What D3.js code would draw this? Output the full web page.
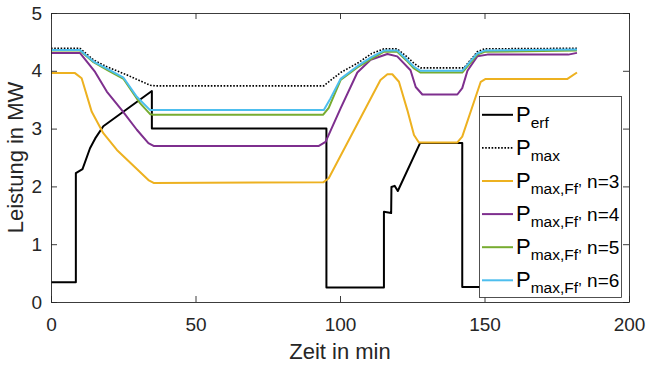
<!DOCTYPE html>
<html>
<head>
<meta charset="utf-8">
<script src="https://cdn.jsdelivr.net/npm/d3@7"></script>
<style>
  body { margin: 0; background: #fff; }
  svg { display: block; font-family: "Liberation Sans", Arial, sans-serif; }
</style>
</head>
<body>
<svg id="chart"></svg>
<script>
// [zeit in min, leistung in MW]
const pErf = [[0,0.34],[8.6,0.34],[8.6,2.23],[10.9,2.30],[13.5,2.66],[15.3,2.83],[18.1,3.04],[34.9,3.65],[34.9,3.0],
  [95.3,3.0],[95.3,0.25],[115.2,0.25],[115.2,1.56],[117.7,1.54],[117.8,1.99],[118.9,2.01],[120.0,1.92],
  [127.7,2.75],[142.3,2.75],[142.3,0.26],[182,0.26]]
const pMax = [[0,4.39],[10,4.39],[14.7,4.19],[19.3,4.07],[26.2,3.93],[34.3,3.75],[36,3.74],[94.4,3.74],[100.2,3.97],
  [106,4.13],[111,4.30],[115.2,4.38],[119.8,4.38],[123,4.25],[125.6,4.13],[127.9,4.05],[142.9,4.05],[147.5,4.33],
  [150,4.38],[182,4.39]]
const pFfN3 = [[0,3.96],[8.3,3.96],[10.6,3.87],[14.1,3.29],[18.1,2.92],[22.8,2.63],[33.7,2.11],[35.5,2.06],[94.2,2.07],
  [96.1,2.14],[114,3.84],[116.4,3.94],[118.1,3.94],[120.4,3.81],[123.3,3.32],[125.6,2.89],[127.3,2.76],[140.6,2.76],
  [142.3,2.86],[148.7,3.81],[150.4,3.86],[178.7,3.86],[182,3.97]]
const pFfN4 = [[0,4.31],[10,4.31],[15.25,3.98],[19.3,3.64],[24.5,3.32],[29.7,2.98],[33.7,2.75],[35.5,2.70],[92.7,2.70],
  [95,2.77],[100.2,3.35],[106,3.97],[110.6,4.19],[116.4,4.29],[119.8,4.25],[124.4,4.01],[126.2,3.72],[128.5,3.59],
  [140.6,3.59],[142.3,3.70],[144.1,4.00],[147.5,4.25],[151,4.28],[179,4.28],[182,4.31]]
const pFfN5 = [[0,4.35],[10,4.35],[14.7,4.15],[20,4.0],[25.1,3.86],[30.8,3.44],[34.3,3.25],[35.5,3.24],[94.2,3.24],
  [96.1,3.36],[100.2,3.84],[106,4.06],[111,4.21],[115.2,4.33],[119.8,4.33],[123,4.18],[125.6,4.04],[127.9,3.97],
  [142.3,3.97],[147.5,4.28],[150,4.33],[182,4.35]]
const pFfN6 = [[0,4.36],[10,4.36],[14.7,4.16],[20,4.02],[25.1,3.88],[29.7,3.55],[34.3,3.32],[35.5,3.32],[94.4,3.32],
  [96.7,3.52],[100.2,3.86],[106,4.08],[111,4.24],[115.2,4.35],[119.8,4.35],[123,4.2],[125.6,4.07],[127.9,4.0],
  [142.3,4.0],[147.5,4.30],[150,4.35],[182,4.37]]

const xTicks = [0, 50, 100, 150, 200]
const yTicks = [0, 1, 2, 3, 4, 5]
const legendSub = ["erf", "max", "max,Ff\u2019", "max,Ff\u2019", "max,Ff\u2019", "max,Ff\u2019"]
const legendSuffix = ["", "", "n=3", "n=4", "n=5", "n=6"]

const series = [
  { data: pErf, color: "#000000", dash: null, width: 2 },
  { data: pMax, color: "#000000", dash: "1.6,1.6", width: 1.6 },
  { data: pFfN3, color: "#EDB120", dash: null, width: 2 },
  { data: pFfN4, color: "#7E2F8E", dash: null, width: 2 },
  { data: pFfN5, color: "#77AC30", dash: null, width: 2 },
  { data: pFfN6, color: "#4DBEEE", dash: null, width: 2 },
]

const width = 646, height = 365
const margin = { top: 13, right: 17, bottom: 63, left: 51 }
const axisColor = "#262626"

const svg = d3.select("#chart")
    .attr("width", width)
    .attr("height", height)
    .attr("viewBox", [0, 0, width, height])

const x = d3.scaleLinear().domain([0, 200]).range([margin.left, width - margin.right])
const y = d3.scaleLinear().domain([0, 5]).range([height - margin.bottom, margin.top])

const line = d3.line()
    .x(d => x(d[0]))
    .y(d => y(d[1]))

// lines
svg.append("g")
  .selectAll("path")
  .data(series)
  .join("path")
    .attr("fill", "none")
    .attr("stroke", d => d.color)
    .attr("stroke-width", d => d.width)
    .attr("stroke-dasharray", d => d.dash)
    .attr("stroke-linejoin", "round")
    .attr("d", d => line(d.data))

// axes (box with inward ticks on every side)
const tick = 6
const xAxis = g => g
    .attr("transform", `translate(0,${y(0)})`)
    .call(d3.axisBottom(x).tickValues(xTicks).tickSizeInner(-tick).tickSizeOuter(0).tickPadding(16))
const xAxisTop = g => g
    .attr("transform", `translate(0,${y(5)})`)
    .call(d3.axisTop(x).tickValues(xTicks).tickSizeInner(-tick).tickSizeOuter(0).tickFormat(""))
const yAxis = g => g
    .attr("transform", `translate(${x(0)},0)`)
    .call(d3.axisLeft(y).tickValues(yTicks).tickFormat(d3.format("d")).tickSizeInner(-tick).tickSizeOuter(0).tickPadding(9))
const yAxisRight = g => g
    .attr("transform", `translate(${x(200)},0)`)
    .call(d3.axisRight(y).tickValues(yTicks).tickSizeInner(-tick).tickSizeOuter(0).tickFormat(""))

for (const ax of [xAxis, xAxisTop, yAxis, yAxisRight]) {
  svg.append("g")
      .call(ax)
      .call(g => g.selectAll(".domain, line").attr("stroke", axisColor).attr("stroke-width", 0.9))
      .call(g => g.selectAll("text").attr("fill", axisColor).attr("font-size", 19).attr("font-family", null))
}

svg.append("text")
    .attr("x", x(100))
    .attr("y", 359)
    .attr("text-anchor", "middle")
    .attr("fill", axisColor)
    .attr("font-size", 22)
    .text("Zeit in min")

svg.append("text")
    .attr("transform", `translate(23,${y(2.5)}) rotate(-90)`)
    .attr("text-anchor", "middle")
    .attr("fill", axisColor)
    .attr("font-size", 22)
    .text("Leistung in MW")

// legend
const legend = svg.append("g")
legend.append("rect")
    .attr("x", 479.5)
    .attr("y", 96.5)
    .attr("width", 142)
    .attr("height", 201)
    .attr("fill", "#fff")
    .attr("stroke", axisColor)
    .attr("stroke-width", 0.8)

const rowY = i => 114.8 + i * 33.1
const rows = legend.selectAll("g.row")
  .data(series)
  .join("g")
    .attr("class", "row")
    .attr("transform", (d, i) => `translate(0,${rowY(i)})`)

rows.append("line")
    .attr("x1", 482).attr("x2", 513)
    .attr("stroke", d => d.color)
    .attr("stroke-width", d => d.width)
    .attr("stroke-dasharray", d => d.dash)

const label = rows.append("text")
    .attr("x", 516)
    .attr("y", 7)
    .attr("fill", "#000")
    .attr("font-size", 22)
label.append("tspan").text("P")
label.append("tspan")
    .attr("font-size", 15.5)
    .attr("dy", 6)
    .text((d, i) => legendSub[i])
label.append("tspan")
    .attr("font-size", 19)
    .attr("dy", -6)
    .text((d, i) => legendSuffix[i] ? " " + legendSuffix[i] : "")
</script>
</body>
</html>
